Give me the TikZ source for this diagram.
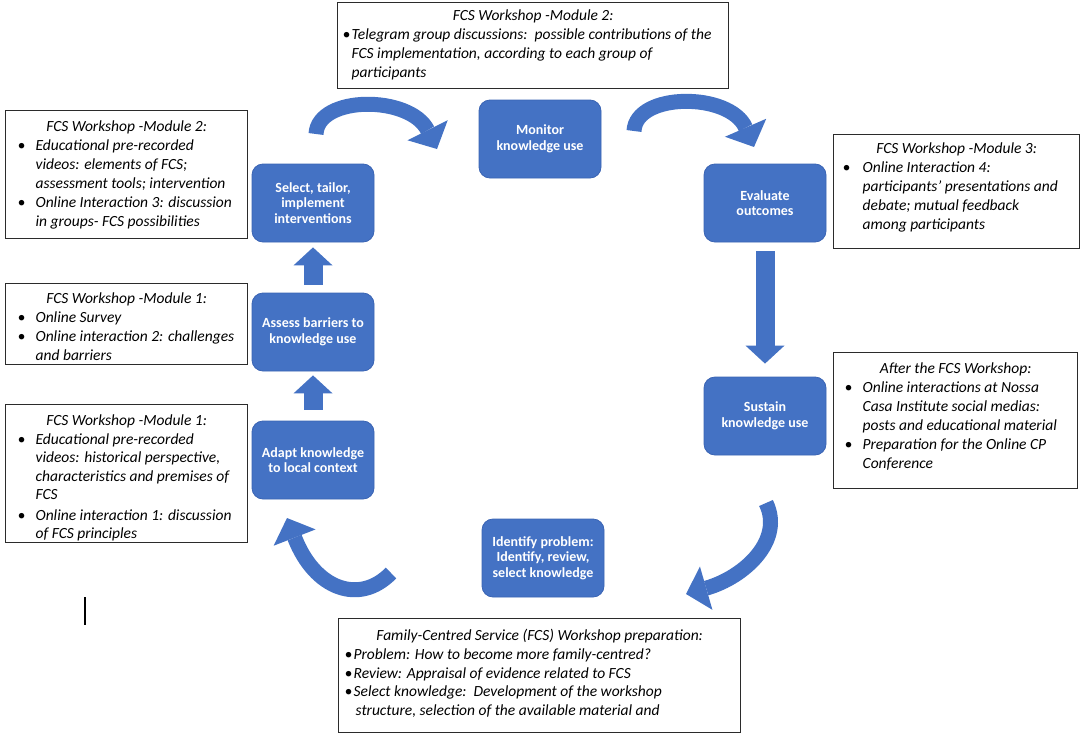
\documentclass[tikz,border=0pt]{standalone}
\usepackage{fontspec}
\setmainfont{Carlito}
\usetikzlibrary{arrows.meta}
\definecolor{ocblue}{HTML}{4472C4}
\definecolor{ocedge}{HTML}{3A64B4}
\definecolor{frame}{HTML}{2B2B2B}
\newlength{\bind}\newlength{\boff}\newlength{\bfirst}
\newcommand{\bitem}[1]{\par\noindent\hangindent=\bind\hangafter=1\makebox[\bfirst][l]{\hspace{\boff}\textbullet}\ignorespaces#1}
\newcommand{\boxtitle}[2]{{\centering\rule{0pt}{#1}#2\par}}
\newcommand{\boxsetup}[3]{\setlength{\bind}{#1}\setlength{\bfirst}{#2}\setlength{\boff}{#3}%
  \rightskip=0pt plus 1fil\relax\parindent=0pt\relax\let\\\newline}
\tikzset{
  x=1pt, y=-1pt,
  stepbox/.style={rounded corners=11pt, fill=ocblue, draw=ocedge, line width=0.8pt,
    text=white, minimum width=122pt, minimum height=78pt, align=center, inner sep=2pt,
    font=\fontsize{14}{15.5}\selectfont\bfseries},
  tbox/.style={draw=frame, line width=1.3pt, inner sep=0pt, anchor=north west,
    font=\fontsize{15.5}{19}\selectfont\itshape},
  straightarrow/.style={ocblue, line width=19pt,
    -{Triangle[width=39pt,length=18pt,line width=0pt]}},
  curvearrow/.style={ocblue, line width=15pt,
    -{Triangle[width=45pt,length=21pt,line width=0pt]}}
}
\begin{document}
\begin{tikzpicture}
\useasboundingbox (0,0) rectangle (1084,736);
\fill[white] (0,0) rectangle (1084,736);

% process steps
\node[stepbox] (monitor) at (540,139) {Monitor\\knowledge use};
\node[stepbox] (select) at (313,203) {Select, tailor,\\implement\\interventions};
\node[stepbox] (evaluate) at (765,203) {Evaluate\\outcomes};
\node[stepbox] (assess) at (313,332) {Assess barriers to\\knowledge use};
\node[stepbox] (adapt) at (313,460) {Adapt knowledge\\to local context};
\node[stepbox] (sustain) at (765,416) {Sustain\\knowledge use};
\node[stepbox] (identify) at (543,558) {Identify problem:\\Identify, review,\\select knowledge};

% straight arrows
\draw[straightarrow, shorten <=11pt, shorten >=4pt] (adapt.north) -- (assess.south);
\draw[straightarrow, shorten <=8pt, shorten >=5pt] (assess.north) -- (select.south);
\draw[straightarrow, shorten <=9pt, shorten >=13pt] (evaluate.south) -- (sustain.north);

% curved arrows
\coordinate (c1s) at (316,134);
\coordinate (c1e) at (437,149);
\coordinate (c2s) at (634,131);
\coordinate (c2e) at (754,147);
\coordinate (c3s) at (766,503);
\coordinate (c3e) at (686,594);
\coordinate (c4s) at (391,573);
\coordinate (c4e) at (287,518);
\draw[curvearrow] (c1s) .. controls (318,95) and (410,95) .. (c1e);
\draw[curvearrow] (c2s) .. controls (636,92) and (730,92) .. (c2e);
\draw[curvearrow] (c3s) .. controls (784,540) and (745,577) .. (c3e);
\draw[curvearrow] (c4s) .. controls (360,605) and (315,590) .. (c4e);

% text boxes
\node[tbox] (btop) at (337,2) {\parbox[t][86pt][t]{391pt}{%
  \boxsetup{14pt}{14pt}{5pt}%
  \boxtitle{18pt}{FCS Workshop -Module 2:}
  \bitem{Telegram group discussions:\ \ possible contributions of the\\FCS implementation, according to each group of\\participants}\par}};

\node[tbox] (bleft1) at (5,110) {\parbox[t][128pt][t]{242pt}{%
  \boxsetup{30pt}{30pt}{12pt}%
  \boxtitle{21pt}{FCS Workshop -Module 2:}
  \bitem{Educational pre-recorded\\videos: elements of FCS;\\assessment tools; intervention}
  \bitem{Online Interaction 3: discussion\\in groups- FCS possibilities}\par}};

\node[tbox] (bleft2) at (5,283) {\parbox[t][81pt][t]{242pt}{%
  \boxsetup{30pt}{30pt}{12pt}%
  \boxtitle{20pt}{FCS Workshop -Module 1:}
  \bitem{Online Survey}
  \bitem{Online interaction 2: challenges\\and barriers}\par}};

\node[tbox] (bleft3) at (5,404) {\parbox[t][138pt][t]{242pt}{%
  \fontsize{15.5}{18.5}\selectfont
  \boxsetup{30pt}{30pt}{12pt}%
  \boxtitle{21pt}{FCS Workshop -Module 1:}
  \bitem{Educational pre-recorded\\videos: historical perspective,\\characteristics and premises of\\FCS}
  \par\vspace{2pt}
  \bitem{Online interaction 1: discussion\\of FCS principles}\par}};

\node[tbox] (bright1) at (833,134) {\parbox[t][114pt][t]{246pt}{%
  \boxsetup{29pt}{29pt}{9pt}%
  \boxtitle{19pt}{FCS Workshop -Module 3:}
  \bitem{Online Interaction 4:\\participants’ presentations and\\debate; mutual feedback\\among participants}\par}};

\node[tbox] (bright2) at (833,352) {\parbox[t][136pt][t]{244pt}{%
  \boxsetup{29pt}{29pt}{11pt}%
  \boxtitle{21pt}{After the FCS Workshop:}
  \bitem{Online interactions at Nossa\\Casa Institute social medias:\\posts and educational material}
  \bitem{Preparation for the Online CP\\Conference}\par}};

\node[tbox] (bbottom) at (338,618) {\parbox[t][114pt][t]{402pt}{%
  \fontsize{15.5}{18.75}\selectfont
  \boxsetup{17pt}{15pt}{6pt}%
  \boxtitle{22pt}{Family-Centred Service (FCS) Workshop preparation:}
  \bitem{Problem: How to become more family-centred?}
  \bitem{Review: Appraisal of evidence related to FCS}
  \bitem{Select knowledge:\ \ Development of the workshop\\structure, selection of the available\ material and}\par}};

% stray text cursor mark
\draw[line width=1.2pt, black] (85,597) -- (85,625);
\end{tikzpicture}
\end{document}
